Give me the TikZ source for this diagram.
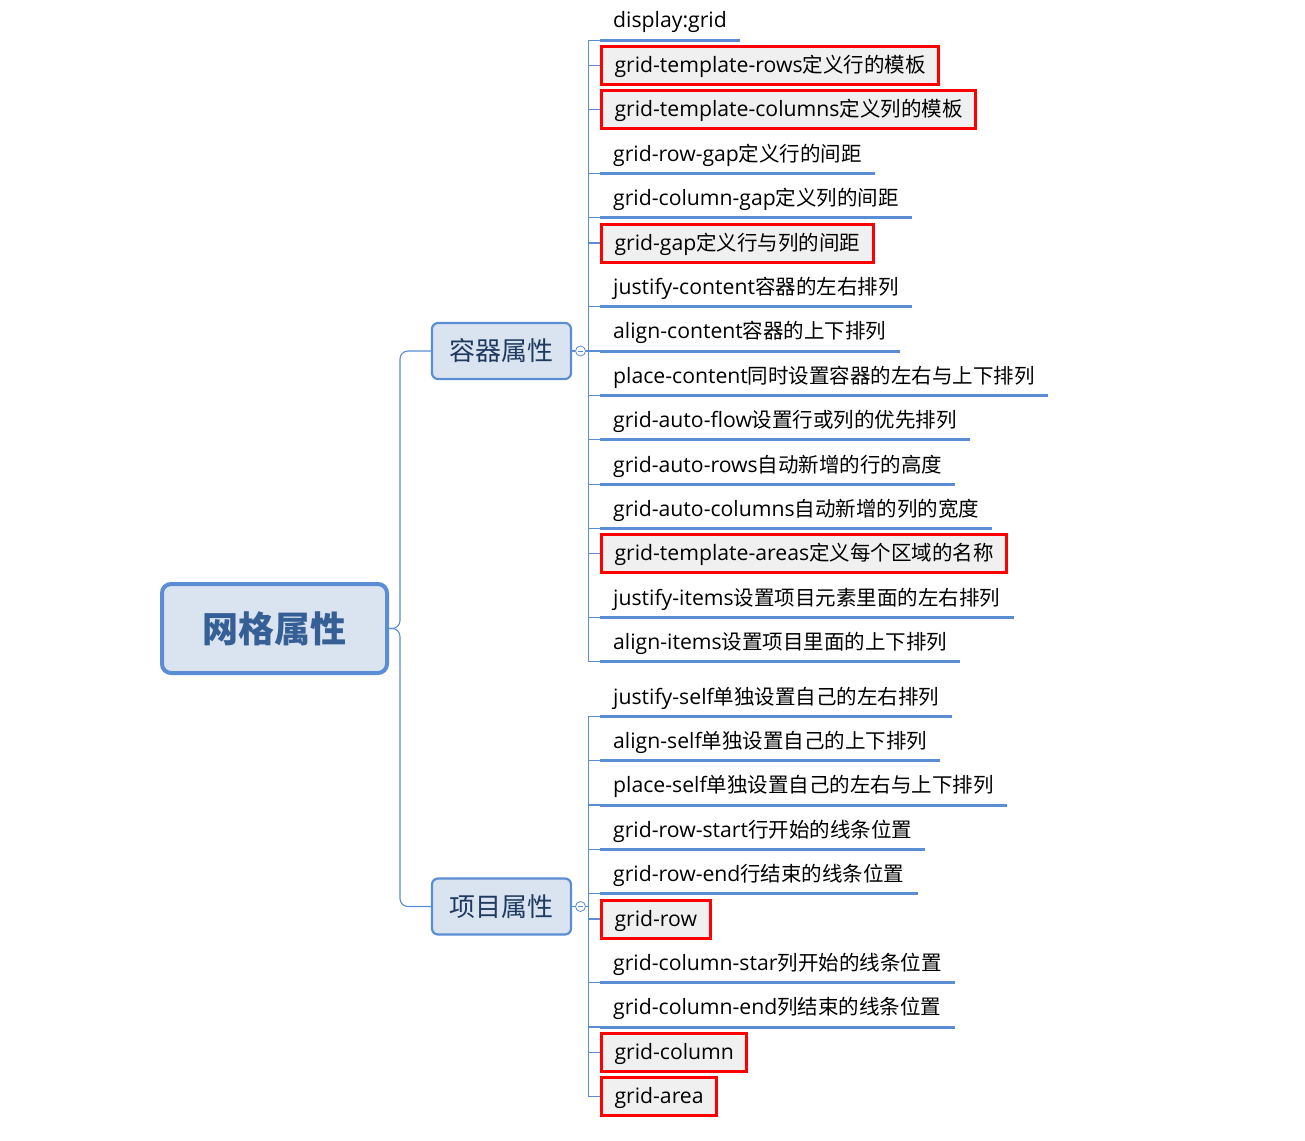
\documentclass[tikz,border=0pt]{standalone}
\usepackage{fontspec}
\setmainfont{Open Sans}
\newfontfamily\cjk{Noto Sans CJK SC}
\newcommand\zh[1]{{\cjk\fontsize{20.5}{24}\selectfont #1}}
\usetikzlibrary{positioning}

\definecolor{lineblue}{HTML}{5B8DD5}
\definecolor{topicfill}{HTML}{DAE4F1}
\definecolor{roottext}{HTML}{355F95}
\definecolor{branchtext}{HTML}{1E3A5F}
\definecolor{leaffill}{HTML}{F0F0F0}

\tikzset{
	conn/.style={draw=lineblue, line width=1.1pt},
	uline/.style={draw=lineblue, line width=3pt},
	root/.style={draw=lineblue, fill=topicfill, line width=4pt, rounded corners=9pt,
		minimum width=225pt, minimum height=89pt, text=roottext,
		font=\fontsize{36}{40}\selectfont\cjk\bfseries},
	branch/.style={draw=lineblue, fill=topicfill, line width=2.2pt, rounded corners=6pt,
		minimum width=139pt, minimum height=56pt, text=branchtext,
		font=\fontsize{26}{30}\selectfont\cjk},
	leaf/.style={anchor=west, inner xsep=13pt, inner ysep=0pt, minimum height=38pt,
		text height=17pt, text depth=3pt, font=\fontsize{21.2}{24}\selectfont},
	boxed/.style={leaf, draw=red, fill=leaffill, line width=3pt},
	toggle/.style={circle, draw=lineblue, fill=white, line width=0.8pt, minimum size=10pt, inner sep=0pt,
		path picture={\draw[lineblue, line width=0.8pt] ([xshift=-2.5pt]path picture bounding box.center) -- ([xshift=2.5pt]path picture bounding box.center);}},
}

\begin{document}
\begin{tikzpicture}[x=1pt, y=-1pt]
	\useasboundingbox (0,0) rectangle (1305,1140);

	\node[root] (root) at (274.5,628.5) {网格属性};
	\node[branch] (cont) at (501.5,351) {容器属性};
	\node[branch] (item) at (501.5,906.5) {项目属性};

	\node[toggle, right=3pt of cont] (cont-t) {};
	\node[toggle, right=3pt of item] (item-t) {};
	\coordinate[right=3pt of cont-t] (cont-s);
	\coordinate[right=3pt of item-t] (item-s);

	% container properties
	\node[leaf] (c1) at (600,21) {display:grid};
	\node[boxed] (c2) at ([yshift=-44.4pt]c1.west) {grid-template-rows\zh{定义行的模板}};
	\node[boxed] (c3) at ([yshift=-44.4pt]c2.west) {grid-template-columns\zh{定义列的模板}};
	\node[leaf] (c4) at ([yshift=-44.4pt]c3.west) {grid-row-gap\zh{定义行的间距}};
	\node[leaf] (c5) at ([yshift=-44.4pt]c4.west) {grid-column-gap\zh{定义列的间距}};
	\node[boxed] (c6) at ([yshift=-44.4pt]c5.west) {grid-gap\zh{定义行与列的间距}};
	\node[leaf] (c7) at ([yshift=-44.4pt]c6.west) {justify-content\zh{容器的左右排列}};
	\node[leaf] (c8) at ([yshift=-44.4pt]c7.west) {align-content\zh{容器的上下排列}};
	\node[leaf] (c9) at ([yshift=-44.4pt]c8.west) {place-content\zh{同时设置容器的左右与上下排列}};
	\node[leaf] (c10) at ([yshift=-44.4pt]c9.west) {grid-auto-flow\zh{设置行或列的优先排列}};
	\node[leaf] (c11) at ([yshift=-44.4pt]c10.west) {grid-auto-rows\zh{自动新增的行的高度}};
	\node[leaf] (c12) at ([yshift=-44.4pt]c11.west) {grid-auto-columns\zh{自动新增的列的宽度}};
	\node[boxed] (c13) at ([yshift=-44.4pt]c12.west) {grid-template-areas\zh{定义每个区域的名称}};
	\node[leaf] (c14) at ([yshift=-44.4pt]c13.west) {justify-items\zh{设置项目元素里面的左右排列}};
	\node[leaf] (c15) at ([yshift=-44.4pt]c14.west) {align-items\zh{设置项目里面的上下排列}};

	% item properties
	\node[leaf] (i1) at (600,697) {justify-self\zh{单独设置自己的左右排列}};
	\node[leaf] (i2) at ([yshift=-44.4pt]i1.west) {align-self\zh{单独设置自己的上下排列}};
	\node[leaf] (i3) at ([yshift=-44.4pt]i2.west) {place-self\zh{单独设置自己的左右与上下排列}};
	\node[leaf] (i4) at ([yshift=-44.4pt]i3.west) {grid-row-start\zh{行开始的线条位置}};
	\node[leaf] (i5) at ([yshift=-44.4pt]i4.west) {grid-row-end\zh{行结束的线条位置}};
	\node[boxed] (i6) at ([yshift=-44.4pt]i5.west) {grid-row};
	\node[leaf] (i7) at ([yshift=-44.4pt]i6.west) {grid-column-star\zh{列开始的线条位置}};
	\node[leaf] (i8) at ([yshift=-44.4pt]i7.west) {grid-column-end\zh{列结束的线条位置}};
	\node[boxed] (i9) at ([yshift=-44.4pt]i8.west) {grid-column};
	\node[boxed] (i10) at ([yshift=-44.4pt]i9.west) {grid-area};

	% underlines
	\foreach \n in {c1,c4,c5,c7,c8,c9,c10,c11,c12,c14,c15,i1,i2,i3,i4,i5,i7,i8}
		\draw[uline] (\n.south west) -- (\n.south east);

	% connectors
	\draw[conn, rounded corners=8pt] (root.east) -- ++(11,0) |- (cont.west);
	\draw[conn, rounded corners=8pt] (root.east) -- ++(11,0) |- (item.west);
	\draw[conn] (cont.east) -- (cont-t.west) (cont-t.east) -- (cont-s);
	\draw[conn] (item.east) -- (item-t.west) (item-t.east) -- (item-s);

	\foreach \n in {c1,c4,c5,c7,c8,c9,c10,c11,c12,c14,c15}
		\draw[conn] (cont-s) |- (\n.south west);
	\foreach \n in {c2,c3,c6,c13}
		\draw[conn] (cont-s) |- (\n.west);
	\foreach \n in {i1,i2,i3,i4,i5,i7,i8}
		\draw[conn] (item-s) |- (\n.south west);
	\foreach \n in {i6,i9,i10}
		\draw[conn] (item-s) |- (\n.west);
\end{tikzpicture}
\end{document}
